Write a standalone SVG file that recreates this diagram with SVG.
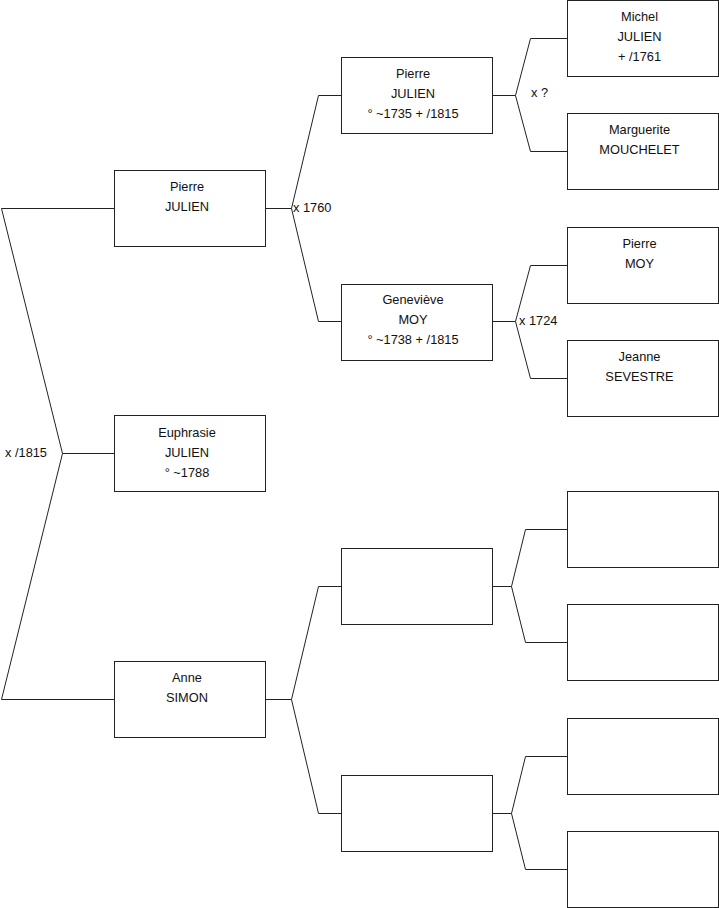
<svg xmlns="http://www.w3.org/2000/svg" width="719" height="908" viewBox="0 0 719 908">
<style>
.box{fill:#fff;stroke:#222;stroke-width:1}
.ln{fill:none;stroke:#222;stroke-width:1}
text{font-family:"Liberation Sans",Arial,sans-serif;font-size:12.8px;fill:#111}
.c{text-anchor:middle}
</style>
<rect width="719" height="908" fill="#fff"/>
<g id="connectors">
<polyline class="ln" points="114.5,208.5 1.5,208.5 62.5,453.5 1.5,699.5 114.5,699.5"/>
<line class="ln" x1="62.5" y1="453.5" x2="114.5" y2="453.5"/>
<polyline class="ln" points="341.5,95.5 318.5,95.5 291.5,208.5 318.5,321.5 341.5,321.5"/>
<line class="ln" x1="265.5" y1="208.5" x2="291.5" y2="208.5"/>
<polyline class="ln" points="567.5,38.5 530.5,38.5 515.5,95.5 530.5,151.5 567.5,151.5"/>
<line class="ln" x1="492.5" y1="95.5" x2="515.5" y2="95.5"/>
<polyline class="ln" points="567.5,265.5 530.5,265.5 515.5,321.5 530.5,378.5 567.5,378.5"/>
<line class="ln" x1="492.5" y1="321.5" x2="515.5" y2="321.5"/>
<polyline class="ln" points="341.5,586.5 318.5,586.5 291.5,699.5 318.5,813.5 341.5,813.5"/>
<line class="ln" x1="265.5" y1="699.5" x2="291.5" y2="699.5"/>
<polyline class="ln" points="567.5,529.5 525.5,529.5 511.5,586.5 525.5,642.5 567.5,642.5"/>
<line class="ln" x1="492.5" y1="586.5" x2="511.5" y2="586.5"/>
<polyline class="ln" points="567.5,756.5 525.5,756.5 511.5,813.5 525.5,869.5 567.5,869.5"/>
<line class="ln" x1="492.5" y1="813.5" x2="511.5" y2="813.5"/>
<text x="5" y="457">x /1815</text>
<text x="293" y="212">x 1760</text>
<text x="531" y="97">x ?</text>
<text x="519" y="325">x 1724</text>
</g>
<g id="pierre-julien-1">
<rect class="box" x="114.5" y="170.5" width="151" height="76"/>
<text class="c" x="187" y="191">Pierre</text>
<text class="c" x="187" y="211">JULIEN</text>
</g>
<g id="euphrasie-julien">
<rect class="box" x="114.5" y="415.5" width="151" height="76"/>
<text class="c" x="187" y="437">Euphrasie</text>
<text class="c" x="187" y="457">JULIEN</text>
<text class="c" x="187" y="477">° ~1788</text>
</g>
<g id="anne-simon">
<rect class="box" x="114.5" y="661.5" width="151" height="76"/>
<text class="c" x="187" y="682">Anne</text>
<text class="c" x="187" y="702">SIMON</text>
</g>
<g id="pierre-julien-2">
<rect class="box" x="341.5" y="57.5" width="151" height="76"/>
<text class="c" x="413" y="78">Pierre</text>
<text class="c" x="413" y="98">JULIEN</text>
<text class="c" x="413" y="118">° ~1735 + /1815</text>
</g>
<g id="genevieve-moy">
<rect class="box" x="341.5" y="284.5" width="151" height="76"/>
<text class="c" x="413" y="304">Geneviève</text>
<text class="c" x="413" y="324">MOY</text>
<text class="c" x="413" y="344">° ~1738 + /1815</text>
</g>
<g id="blank-2a">
<rect class="box" x="341.5" y="548.5" width="151" height="76"/>
</g>
<g id="blank-2b">
<rect class="box" x="341.5" y="775.5" width="151" height="76"/>
</g>
<g id="michel-julien">
<rect class="box" x="567.5" y="0.5" width="151" height="76"/>
<text class="c" x="639.5" y="21">Michel</text>
<text class="c" x="639.5" y="41">JULIEN</text>
<text class="c" x="639.5" y="61">+ /1761</text>
</g>
<g id="marguerite-mouchelet">
<rect class="box" x="567.5" y="113.5" width="151" height="76"/>
<text class="c" x="639.5" y="134">Marguerite</text>
<text class="c" x="639.5" y="154">MOUCHELET</text>
</g>
<g id="pierre-moy">
<rect class="box" x="567.5" y="227.5" width="151" height="76"/>
<text class="c" x="639.5" y="248">Pierre</text>
<text class="c" x="639.5" y="268">MOY</text>
</g>
<g id="jeanne-sevestre">
<rect class="box" x="567.5" y="340.5" width="151" height="76"/>
<text class="c" x="639.5" y="361">Jeanne</text>
<text class="c" x="639.5" y="381">SEVESTRE</text>
</g>
<g id="blank-3a"><rect class="box" x="567.5" y="491.5" width="151" height="76"/></g>
<g id="blank-3b"><rect class="box" x="567.5" y="604.5" width="151" height="76"/></g>
<g id="blank-3c"><rect class="box" x="567.5" y="718.5" width="151" height="76"/></g>
<g id="blank-3d"><rect class="box" x="567.5" y="831.5" width="151" height="76"/></g>
</svg>
